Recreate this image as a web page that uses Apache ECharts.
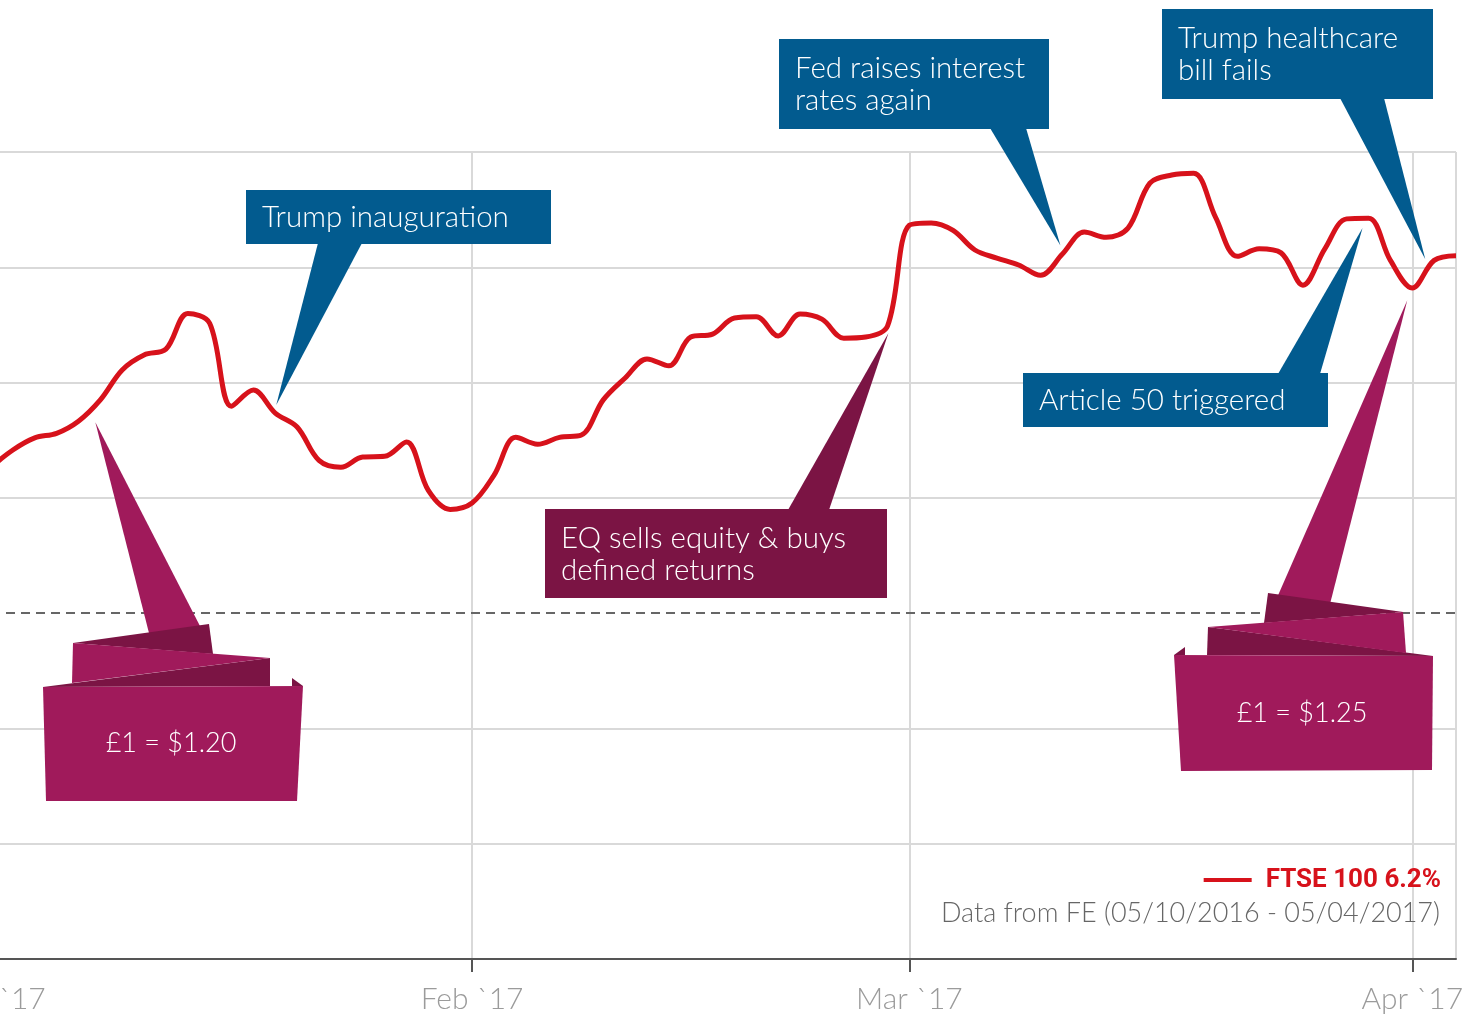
<!DOCTYPE html>
<html>
<head>
<meta charset="utf-8">
<title>FTSE 100 – Jan to Apr 2017</title>
<style>
  html, body { margin: 0; padding: 0; background: #ffffff; }
  #chart { width: 1477px; height: 1017px; }
</style>
<script src="https://cdn.jsdelivr.net/npm/echarts@6/dist/echarts.min.js"></script>
</head>
<body>
<div id="chart"></div>
<script>
// Trading days shown on the axis (one category per session)
const tradingDays = [
  '2016-12-30',
  '2017-01-03','2017-01-04','2017-01-05','2017-01-06','2017-01-09','2017-01-10','2017-01-11',
  '2017-01-12','2017-01-13','2017-01-16','2017-01-17','2017-01-18','2017-01-19','2017-01-20',
  '2017-01-23','2017-01-24','2017-01-25','2017-01-26','2017-01-27','2017-01-30','2017-01-31',
  '2017-02-01','2017-02-02','2017-02-03','2017-02-06','2017-02-07','2017-02-08','2017-02-09',
  '2017-02-10','2017-02-13','2017-02-14','2017-02-15','2017-02-16','2017-02-17','2017-02-20',
  '2017-02-21','2017-02-22','2017-02-23','2017-02-24','2017-02-27','2017-02-28',
  '2017-03-01','2017-03-02','2017-03-03','2017-03-06','2017-03-07','2017-03-08','2017-03-09',
  '2017-03-10','2017-03-13','2017-03-14','2017-03-15','2017-03-16','2017-03-17','2017-03-20',
  '2017-03-21','2017-03-22','2017-03-23','2017-03-24','2017-03-27','2017-03-28','2017-03-29',
  '2017-03-30','2017-03-31',
  '2017-04-03','2017-04-04','2017-04-05'
];

// Cumulative FTSE 100 return (%) since 05/10/2016
const ftseReturn = [
  2.53,
  2.83, 3.04, 3.12, 3.33, 3.70, 4.22, 4.48, 4.58, 5.20, 5.03, 3.59, 3.87, 3.47, 3.23,
  2.65, 2.53, 2.71, 2.72, 2.97, 2.13, 1.80,
  1.91, 2.39, 3.05, 2.93, 3.05, 3.09, 3.70, 4.08, 4.41, 4.29, 4.79, 4.84, 5.12, 5.14,
  4.81, 5.19, 5.10, 4.77, 4.79, 4.98,
  6.73, 6.77, 6.64, 6.30, 6.16, 6.04, 5.86, 6.23, 6.61, 6.52, 6.68, 7.46, 7.60, 7.63,
  6.87, 6.19, 6.32, 6.25, 5.69, 6.32, 6.84, 6.85, 6.12,
  5.64, 6.12, 6.20
];

// Month labels, placed on the first session of each month
const monthLabels = {
  '2017-01-03': 'Jan `17',
  '2017-02-01': 'Feb `17',
  '2017-03-01': 'Mar `17',
  '2017-04-03': 'Apr `17'
};
// Month boundaries that get a tick and a vertical grid line
const monthTicks = ['2017-02-01', '2017-03-01', '2017-04-03'];

// Return scale (%)
const yMin = -6, yMax = 8, yStep = 2;

const seriesName = 'FTSE 100';
const sourceNote = 'Data from FE (05/10/2016 - 05/04/2017)';

// Event annotations: text and the [session, return %] they point at
const events = [
  { lines: ['Trump inauguration'], at: ['2017-01-19', 3.61] },
  { lines: ['Fed raises interest', 'rates again'], at: ['2017-03-10', 6.38] },
  { lines: ['Trump healthcare', 'bill fails'], at: ['2017-04-03', 6.14] },
  { lines: ['Article 50 triggered'], at: ['2017-03-30', 6.68] },
  { lines: ['EQ sells equity & buys', 'defined returns'], at: ['2017-02-28', 4.86] }
];
// Exchange-rate ribbons
const fxNotes = [
  { text: '£1 = $1.20', at: ['2017-01-09', 3.31] },
  { text: '£1 = $1.25', at: ['2017-04-03', 5.43] }
];

// ---------------------------------------------------------------------------
const RED = '#d7121b';
const BLUE = '#025b8f';
const MAROON = '#7b1444';
const MAGENTA = '#a01a5b';
const GRID = '#d9d9d9';
const FONT = 'Lato, "Open Sans", sans-serif';

const lastReturn = ftseReturn[ftseReturn.length - 1];
const firstLabel = Object.keys(monthLabels)[0];
const tickSet = new Set(monthTicks);
const splitSet = new Set(monthTicks.concat([tradingDays[tradingDays.length - 1]]));

// horizontal grid colours: the zero line is drawn separately as a dashed rule
const hLineColors = [];
for (let v = yMin; v <= yMax; v += yStep) hLineColors.push(v === 0 ? 'rgba(0,0,0,0)' : GRID);

const chart = echarts.init(document.getElementById('chart'), null, { renderer: 'canvas' });

chart.setOption({
  animation: false,
  backgroundColor: '#ffffff',
  grid: { left: -9, right: 21, top: 152, bottom: 58, containLabel: false, outerBoundsMode: 'none' },
  xAxis: {
    type: 'category',
    data: tradingDays,
    boundaryGap: false,
    axisLine: { show: true, onZero: false, lineStyle: { color: '#555555', width: 2 } },
    axisTick: {
      show: true, length: 13,
      interval: (i, v) => tickSet.has(v),
      lineStyle: { color: '#555555', width: 2 }
    },
    axisLabel: {
      show: true,
      interval: (i, v) => v in monthLabels,
      // the opening month sits at the left edge, so its label leans left
      formatter: v => v === firstLabel ? '{lead|' + monthLabels[v] + '}' : (monthLabels[v] || ''),
      rich: { lead: { padding: [0, 32, 0, 0], color: '#9b9b9b', fontFamily: FONT, fontWeight: 300, fontSize: 30 } },
      color: '#9b9b9b', fontFamily: FONT, fontWeight: 300, fontSize: 30, margin: 25
    },
    splitLine: {
      show: true,
      interval: (i, v) => splitSet.has(v),
      lineStyle: { color: GRID, width: 2 }
    }
  },
  yAxis: {
    type: 'value',
    min: yMin, max: yMax, interval: yStep,
    axisLine: { show: false },
    axisTick: { show: false },
    axisLabel: { show: false },
    splitLine: { show: true, lineStyle: { color: hLineColors, width: 2 } }
  },
  legend: {
    right: 31, top: 862,
    icon: 'rect', itemWidth: 48, itemHeight: 4,
    data: [seriesName],
    formatter: name => name + ' ' + lastReturn.toFixed(1) + '%',
    textStyle: { color: RED, fontFamily: 'Roboto, sans-serif', fontWeight: 'bold', fontSize: 26, padding: [0, 0, 0, 9] }
  },
  series: [{
    name: seriesName,
    type: 'line',
    data: ftseReturn,
    symbol: 'none',
    smooth: 0.35,
    color: RED,
    lineStyle: { color: RED, width: 5 },
    markLine: {
      silent: true, symbol: 'none',
      label: { show: false },
      lineStyle: { color: '#666666', width: 2, type: [9, 6] },
      data: [{ yAxis: 0 }]
    },
    z: 3
  }]
});

// ---------------------------------------------------------------------------
// Annotation layout (boxes in pixels, pointer tips from the data coordinates)
const eventLayout = [
  { box: [246, 190, 305, 54], base: [318, 362], dx: 1, fill: BLUE },
  { box: [779, 39, 270, 90], base: [990, 1026], dx: -2, fill: BLUE },
  { box: [1162, 9, 271, 90], base: [1340, 1384], dx: 13, fill: BLUE },
  { box: [1023, 373, 305, 54], base: [1278, 1320], dx: -6, fill: BLUE },
  { box: [545, 509, 342, 89], base: [788, 829], dx: 1, fill: MAROON }
];

const toPx = at => chart.convertToPixel({ xAxisIndex: 0, yAxisIndex: 0 }, at);
const graphics = [];
const Z = 50;
const TEXT_FONT = '300 29.5px ' + FONT;

events.forEach((ev, k) => {
  const L = eventLayout[k];
  const [bx, by, bw, bh] = L.box;
  const tip = toPx(ev.at);
  const tx = tip[0] + L.dx, ty = tip[1];
  const below = ty > by + bh;
  const edgeY = below ? by + bh - 1 : by + 1;
  graphics.push({
    type: 'polygon', z: Z, silent: true,
    shape: { points: [[L.base[0], edgeY], [tx, ty], [L.base[1], edgeY]] },
    style: { fill: L.fill }
  });
  graphics.push({
    type: 'rect', z: Z, silent: true,
    shape: { x: bx, y: by, width: bw, height: bh },
    style: { fill: L.fill }
  });
  ev.lines.forEach((line, j) => {
    graphics.push({
      type: 'text', z: Z + 1, silent: true,
      style: {
        text: line, x: bx + 16, y: by + (ev.lines.length === 1 ? bh / 2 : 29 + 32 * j),
        fill: '#ffffff', font: TEXT_FONT,
        align: 'left', verticalAlign: 'middle'
      }
    });
  });
});

// Folded ribbon pieces for the exchange-rate notes
const fxLayout = [
  {
    dx: -5,
    base: [[150, 637], [201, 628]],
    back: [[[73, 643], [209, 624], [213, 654]], [[270, 658], [43, 687], [270, 686]], [[292, 678], [303, 686], [292, 686]]],
    fold: [[73, 643], [270, 658], [72, 683]],
    panel: [[43, 687], [303, 686], [297, 801], [46, 801]],
    label: [171, 743]
  },
  {
    dx: -5,
    base: [[1276, 600], [1330, 604]],
    back: [[[1268, 593], [1403, 612], [1264, 623]], [[1208, 627], [1433, 656], [1207, 655]], [[1174, 655], [1185, 647], [1185, 655]]],
    fold: [[1208, 627], [1403, 612], [1406, 653]],
    panel: [[1174, 655], [1433, 656], [1432, 770], [1181, 771]],
    label: [1302, 713]
  }
];

fxNotes.forEach((note, k) => {
  const L = fxLayout[k];
  const tip = toPx(note.at);
  graphics.push({
    type: 'polygon', z: Z, silent: true,
    shape: { points: [L.base[0], [tip[0] + L.dx, tip[1]], L.base[1]] },
    style: { fill: MAGENTA }
  });
  L.back.forEach(pts => graphics.push({
    type: 'polygon', z: Z + 1, silent: true, shape: { points: pts }, style: { fill: MAROON }
  }));
  graphics.push({ type: 'polygon', z: Z + 2, silent: true, shape: { points: L.fold }, style: { fill: MAGENTA } });
  graphics.push({ type: 'polygon', z: Z + 2, silent: true, shape: { points: L.panel }, style: { fill: MAGENTA } });
  graphics.push({
    type: 'text', z: Z + 3, silent: true,
    style: {
      text: note.text, x: L.label[0], y: L.label[1],
      fill: '#ffffff', font: '300 27px ' + FONT, align: 'center', verticalAlign: 'middle'
    }
  });
});

// Source note under the legend
graphics.push({
  type: 'text', z: Z, silent: true,
  style: {
    text: sourceNote, x: 1440, y: 913,
    fill: '#666666', font: '300 27px ' + FONT, align: 'right', verticalAlign: 'middle'
  }
});

chart.setOption({ graphic: graphics });
</script>
</body>
</html>
